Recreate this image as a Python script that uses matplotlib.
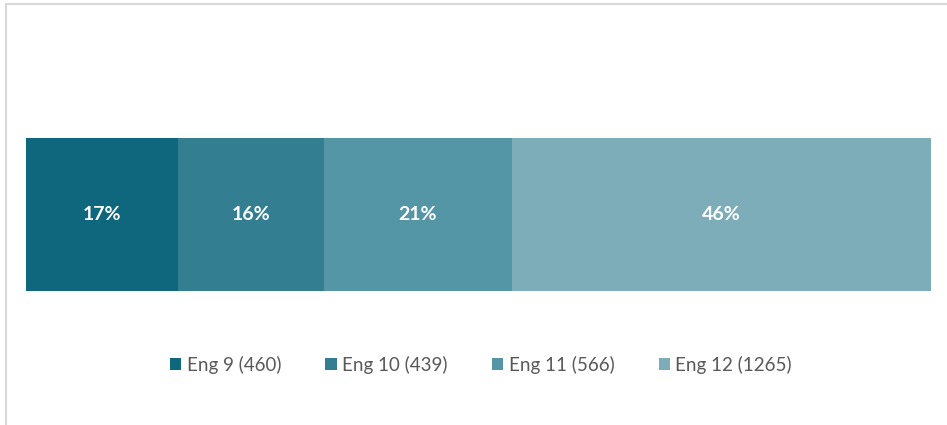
import matplotlib.pyplot as plt
from matplotlib.lines import Line2D

plt.rcParams['font.family'] = ['Lato', 'DejaVu Sans']

grades = ['Eng 9', 'Eng 10', 'Eng 11', 'Eng 12']
counts = [460, 439, 566, 1265]
pct_labels = ['17%', '16%', '21%', '46%']
colors = ['#0e677d', '#337f91', '#5596a6', '#7eadba']

W, H = 947, 425
fig = plt.figure(figsize=(W / 100, H / 100), dpi=100)

# axes sized to the bar itself
ax = fig.add_axes([26 / W, 1 - 291 / H, 905 / W, 153 / H])
total = sum(counts)
left = 0
handles = []
for g, c, p, col in zip(grades, counts, pct_labels, colors):
    b = ax.barh(0, c, left=left, height=1.0, color=col, label=f'{g} ({c})')
    ax.text(left + c / 2, 0, p, ha='center', va='center', color='white',
            fontsize=14, fontweight='bold')
    handles.append(b)
    left += c
ax.set_xlim(0, total)
ax.set_ylim(-0.5, 0.5)
ax.axis('off')

fig.legend(handles=handles, loc='center', bbox_to_anchor=(481 / W, 1 - 365 / H),
           ncol=4, frameon=False, fontsize=13.5, handlelength=0.6, handleheight=0.6,
           handletextpad=0.3, columnspacing=2.35, labelcolor='#595959')

# light frame on the top and left edges
fig.add_artist(Line2D([5.5 / W, 1], [1 - 4 / H, 1 - 4 / H], color='#d9d9d9', lw=1.5,
                      transform=fig.transFigure))
fig.add_artist(Line2D([5.5 / W, 5.5 / W], [0, 1 - 4 / H], color='#d9d9d9', lw=1.5,
                      transform=fig.transFigure))

fig.savefig('out.png', dpi=100)
